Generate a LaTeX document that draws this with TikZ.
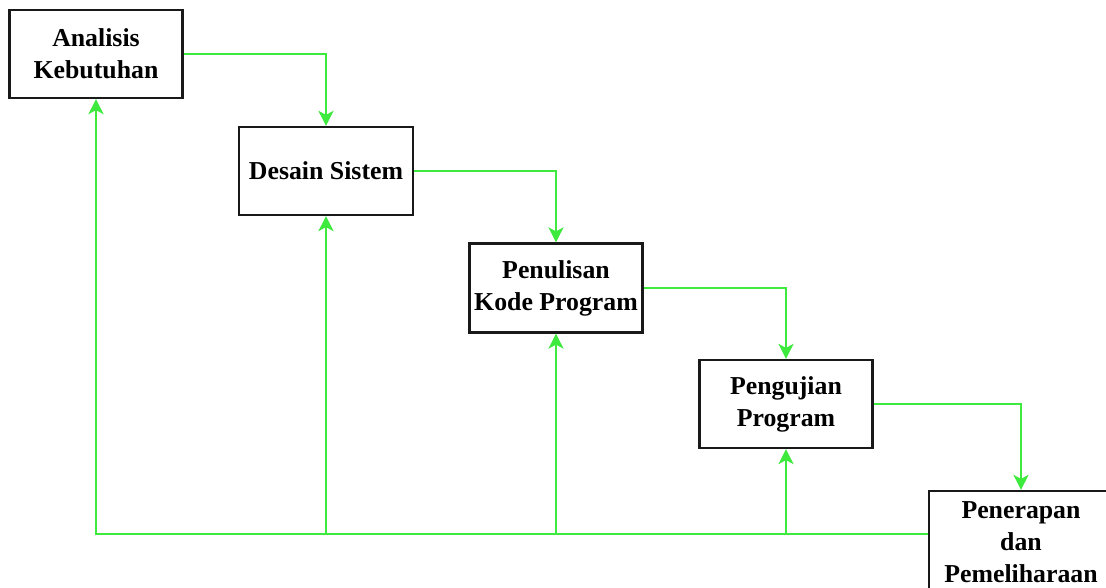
\documentclass[tikz,border=0pt]{standalone}
\usepackage{fontspec}
\setmainfont{Liberation Serif}
\usetikzlibrary{arrows.meta}
\definecolor{lgreen}{HTML}{3FEA3F}
\tikzset{
  procbox/.style={draw=black!90, line width=2.2pt, fill=white, rectangle, align=center,
    font=\bfseries\fontsize{25.8}{32}\selectfont, inner sep=0pt},
  flowthick/.style={draw=lgreen, line width=2.4pt},
  flowthin/.style={draw=lgreen, line width=2pt},
  tip/.style={-{Stealth[length=15pt,width=15pt,inset=4pt]}}
}
\begin{document}
\begin{tikzpicture}[x=1pt,y=-1pt]
\useasboundingbox (0,0) rectangle (1106,588);
\clip (0,0) rectangle (1106,588);
\fill[white] (0,0) rectangle (1106,588);
\coordinate (fb) at (929,534);
\node[procbox, minimum width=173pt, minimum height=88pt] (a) at (96,54) {Analisis\\Kebutuhan};
\node[procbox, minimum width=174pt, minimum height=88pt] (b) at (326,171) {Desain Sistem};
\node[procbox, minimum width=173pt, minimum height=89pt] (c) at (556,288) {Penulisan\\Kode Program};
\node[procbox, minimum width=173pt, minimum height=88pt] (d) at (786,404) {Pengujian\\Program};
\node[procbox, minimum width=184pt, minimum height=102pt] (e) at (1021,542) {Penerapan\\dan\\Pemeliharaan};
% forward flow
\draw[flowthick, tip] (a.east) -| (b.north);
\draw[flowthin, tip] (b.east) -| (c.north);
\draw[flowthin, tip] (c.east) -| (d.north);
\draw[flowthick, tip] (d.east) -| (e.north);
% feedback
\draw[flowthick, tip] (e.west |- fb) -| (a.south);
\draw[flowthick, tip] (b.south |- fb) -- (b.south);
\draw[flowthin, tip] (c.south |- fb) -- (c.south);
\draw[flowthin, tip] (d.south |- fb) -- (d.south);
\end{tikzpicture}
\end{document}
